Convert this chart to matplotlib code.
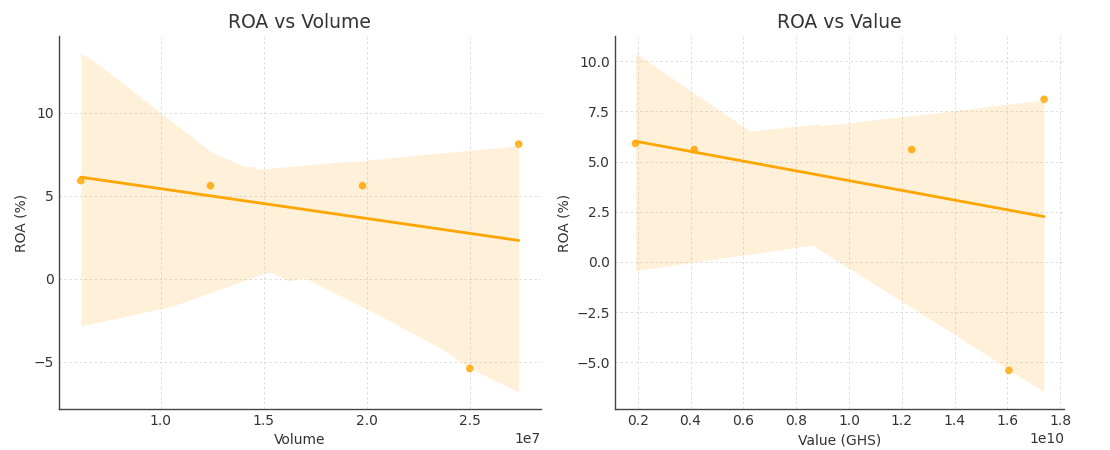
import matplotlib
matplotlib.use("Agg")
import matplotlib.pyplot as plt
from matplotlib.ticker import MultipleLocator
import seaborn as sns
import pandas as pd

# 数据
volume = [0.613e7, 1.242e7, 1.98e7, 2.50e7, 2.737e7]
value_ghs = [0.191e10, 0.414e10, 1.238e10, 1.606e10, 1.739e10]
roa = [5.9, 5.6, 5.6, -5.4, 8.1]

df = pd.DataFrame({"Volume": volume, "Value": value_ghs, "ROA": roa})

sns.set_style("whitegrid")
plt.rcParams["font.family"] = ["DejaVu Sans"]
plt.rcParams["text.color"] = "#333333"
plt.rcParams["axes.labelcolor"] = "#333333"
plt.rcParams["xtick.color"] = "#333333"
plt.rcParams["ytick.color"] = "#333333"

fig, axes = plt.subplots(1, 2, figsize=(11.1, 4.5), dpi=100)

plots = [
    ("Volume", "Volume", "ROA vs Volume", 5),
    ("Value", "Value (GHS)", "ROA vs Value", 2.5),
]

for ax, (col, xlabel, title, ystep) in zip(axes, plots):
    sns.regplot(
        data=df, x=col, y="ROA", ax=ax, color="orange", seed=3,
        scatter_kws={"s": 30, "alpha": 0.85, "edgecolor": "none"},
        line_kws={"linewidth": 2},
    )
    ax.set_title(title, fontsize=13.5)
    ax.set_xlabel(xlabel, fontsize=10)
    ax.set_ylabel("ROA (%)", fontsize=10)
    ax.yaxis.set_major_locator(MultipleLocator(ystep))
    ax.tick_params(labelsize=10, length=0)
    ax.grid(True, linestyle=(0, (3, 3)), linewidth=0.6, color="#d9d9d9")
    for s in ["top", "right"]:
        ax.spines[s].set_visible(False)
    for s in ["left", "bottom"]:
        ax.spines[s].set_color("#444444")
        ax.spines[s].set_linewidth(1.0)
    ax.xaxis.get_offset_text().set_fontsize(10)

axes[0].set_position([0.053, 0.091, 0.434, 0.829])
axes[1].set_position([0.554, 0.091, 0.405, 0.829])

fig.savefig("out.png", dpi=100)
